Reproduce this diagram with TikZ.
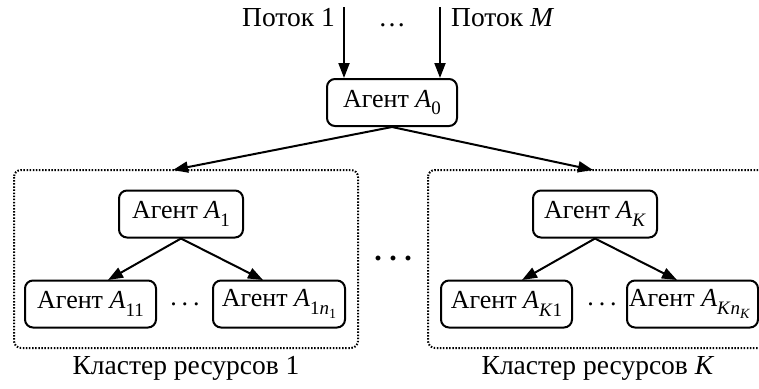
\documentclass[tikz,border=0pt]{standalone}
\usepackage{fontspec}
\setmainfont{Liberation Serif}
\usetikzlibrary{arrows.meta}
\newcommand\SubA[1]{\raisebox{-0.3em}{\fontsize{19}{19}\selectfont #1}}
\newcommand\SubB[1]{\raisebox{-0.25em}{\fontsize{14}{14}\selectfont #1}}
\newcommand\It[1]{\textit{#1}}
\newcommand\BigDots{.\hspace{7.5pt}.\hspace{7.5pt}.}
\newcommand\SmallDots{.\hspace{5pt}.\hspace{5pt}.}
\begin{document}
\begin{tikzpicture}[x=1pt,y=-1pt,
  agent/.style={draw,line width=2pt,rounded corners=8pt,minimum height=47pt,inner sep=0pt,font=\fontsize{26}{28}\selectfont},
  cluster/.style={draw,line width=2pt,dash pattern=on 1.5pt off 1.6pt,rounded corners=7pt},
  arr/.style={line width=2pt,-{Triangle[length=15pt,width=11pt]}},
  lbl/.style={font=\fontsize{27.5}{30}\selectfont,inner sep=0pt},
  dotsl/.style={font=\fontsize{30}{30}\selectfont\bfseries,inner sep=0pt,anchor=base},
  dotss/.style={font=\fontsize{26}{26}\selectfont,inner sep=0pt,anchor=base}]
\clip (0,0) rectangle (759,388);
% clusters
\draw[cluster] (14,170) rectangle (358,348);
\draw[cluster] (428,170) rectangle (820,348);
\coordinate (c1top) at (173,170);
\coordinate (cKtop) at (593,170);
% agents
\node[agent,minimum width=130pt] (a0) at (392,102.5) {Агент \It{A}\SubA{0}};
\node[agent,minimum width=124pt] (a1) at (181,214) {Агент \It{A}\SubA{1}};
\node[agent,minimum width=124pt] (ak) at (595,214) {Агент \It{A}\SubA{\It{K}}};
\node[agent,minimum width=131pt] (a11) at (90.5,304) {Агент \It{A}\SubA{11}};
\node[agent,minimum width=132pt] (a1n) at (279,304) {Агент \It{A}\SubA{1\It{n}\SubB{1}}};
\node[agent,minimum width=131pt] (ak1) at (506.5,304) {Агент \It{A}\SubA{\It{K}1}};
\node[agent,minimum width=131pt] (akn) at (692.5,304) {\hspace*{-6pt}Агент \It{A}\SubA{\It{K}\It{n}\SubB{\It{K}}}};
% streams
\coordinate (s1) at (344,7);
\coordinate (sm) at (440,7);
\draw[arr] (s1) -- (s1 |- a0.north);
\draw[arr] (sm) -- (sm |- a0.north);
\node[lbl,anchor=base east] (p1) at (335,26) {Поток 1};
\node[lbl,anchor=base] (pd) at (392,26) {\dots};
\node[lbl,anchor=base west] (pm) at (451,26) {Поток \It{M}};
% top level arrows
\draw[arr] (a0.south) -- (c1top);
\draw[arr] (a0.south) -- (cKtop);
% inner arrows
\coordinate (a11t) at (108,280);
\coordinate (a1nt) at (263,280);
\coordinate (ak1t) at (522,280);
\coordinate (aknt) at (677,280);
\draw[arr] (a1.south) -- (a11t);
\draw[arr] (a1.south) -- (a1nt);
\draw[arr] (ak.south) -- (ak1t);
\draw[arr] (ak.south) -- (aknt);
% dots
\node[dotss] (d1) at (185,305) {\SmallDots};
\node[dotss] (dk) at (602,305) {\SmallDots};
\node[dotsl] (dm) at (393,260) {\BigDots};
% labels
\node[lbl,anchor=base] (l1) at (186,374) {Кластер ресурсов 1};
\node[lbl,anchor=base] (lk) at (598,374) {Кластер ресурсов \It{K}};
\end{tikzpicture}
\end{document}
